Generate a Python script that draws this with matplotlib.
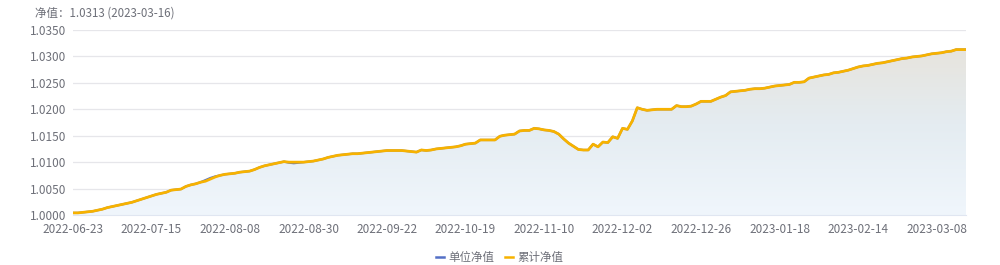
import matplotlib
matplotlib.use("Agg")
import matplotlib.pyplot as plt
import numpy as np
from matplotlib.colors import LinearSegmentedColormap
from matplotlib.lines import Line2D

plt.rcParams['font.family'] = ['Noto Sans CJK SC', 'DejaVu Sans']

title_text = "净值：1.0313 (2023-03-16)"
tick_labels = ["2022-06-23", "2022-07-15", "2022-08-08", "2022-08-30", "2022-09-22",
               "2022-10-19", "2022-11-10", "2022-12-02", "2022-12-26", "2023-01-18",
               "2023-02-14", "2023-03-08"]
series_names = ["单位净值", "累计净值"]

cum_nav = [
    1.0004, 1.0004, 1.0005, 1.0006, 1.0007, 1.0009, 1.0011, 1.0014, 1.0016, 1.0018,
    1.0020, 1.0022, 1.0024, 1.0027, 1.0030, 1.0033, 1.0036, 1.0039, 1.0041, 1.0043,
    1.0047, 1.0048, 1.0049, 1.0054, 1.0057, 1.0059, 1.0062, 1.0064, 1.0068, 1.0072,
    1.0075, 1.0077, 1.0078, 1.0079, 1.0081, 1.0082, 1.0083, 1.0086, 1.0090, 1.0093,
    1.0095, 1.0097, 1.0099, 1.0101, 1.0100, 1.0100, 1.0100, 1.0100, 1.0101, 1.0102,
    1.0104, 1.0106, 1.0109, 1.0111, 1.0113, 1.0114, 1.0115, 1.0116, 1.0116, 1.0117,
    1.0118, 1.0119, 1.0120, 1.0121, 1.0122, 1.0122, 1.0122, 1.0122, 1.0121, 1.0120,
    1.0119, 1.0123, 1.0122, 1.0123, 1.0125, 1.0126, 1.0127, 1.0128, 1.0129, 1.0131,
    1.0134, 1.0135, 1.0136, 1.0142, 1.0142, 1.0142, 1.0142, 1.0149, 1.0151, 1.0152,
    1.0153, 1.0159, 1.0160, 1.0160, 1.0164, 1.0163, 1.0161, 1.0160, 1.0158, 1.0153,
    1.0144, 1.0136, 1.0130, 1.0124, 1.0123, 1.0123, 1.0134, 1.0129, 1.0138, 1.0137,
    1.0148, 1.0145, 1.0164, 1.0162, 1.0178, 1.0203, 1.0200, 1.0198, 1.0199, 1.0200,
    1.0200, 1.0200, 1.0200, 1.0207, 1.0205, 1.0205, 1.0206, 1.0210, 1.0215, 1.0215,
    1.0215, 1.0219, 1.0223, 1.0226, 1.0233, 1.0234, 1.0235, 1.0236, 1.0238, 1.0239,
    1.0239, 1.0240, 1.0242, 1.0244, 1.0245, 1.0246, 1.0247, 1.0251, 1.0251, 1.0252,
    1.0259, 1.0261, 1.0263, 1.0265, 1.0266, 1.0269, 1.0270, 1.0272, 1.0274, 1.0277,
    1.0280, 1.0282, 1.0283, 1.0285, 1.0287, 1.0288, 1.0290, 1.0292, 1.0294, 1.0296,
    1.0297, 1.0299, 1.0300, 1.0301, 1.0303, 1.0305, 1.0306, 1.0307, 1.0309, 1.0310,
    1.0313, 1.0313, 1.0313,
]

unit_nav = list(cum_nav)
unit_nav[27:30] = [1.0066, 1.0070, 1.0073]
unit_nav[44:48] = [1.0099, 1.0098, 1.0099, 1.0100]

y_ticks = [1.0000, 1.0050, 1.0100, 1.0150, 1.0200, 1.0250, 1.0300, 1.0350]

blue = '#5470c6'
orange = '#f7b200'
grey_text = '#6e7079'

fig = plt.figure(figsize=(10, 2.65), dpi=100)
ax = fig.add_axes([0.073, 0.1887, 0.893, 0.698])

x = np.arange(len(cum_nav))
y = np.array(cum_nav)

ymin, ymax = 1.0, 1.035
cmap = LinearSegmentedColormap.from_list('g', [(0.0, '#f0f6fc'), (0.55, '#e4ecf1'), (1.0, '#e7e4dd')])
grad = np.linspace(0, 1, 256).reshape(-1, 1)
top = y.max()
im = ax.imshow(grad, extent=[x[0], x[-1], ymin, top], origin='lower', aspect='auto',
               cmap=cmap, zorder=1)
poly = ax.fill_between(x, y, ymin, color='none', lw=0)
clip_path = poly.get_paths()[0]
im.set_clip_path(clip_path, transform=ax.transData)

ax.plot(x, unit_nav, color=blue, lw=1.6, zorder=3, solid_joinstyle='round')
ax.plot(x, y, color=orange, lw=2.0, zorder=4, solid_joinstyle='round')

ax.set_xlim(x[0], x[-1])
ax.set_ylim(ymin, ymax)
ax.set_yticks(y_ticks)
ax.set_yticklabels([f"{v:.4f}" for v in y_ticks])
ax.set_xticks(np.arange(0, len(cum_nav), 16)[:len(tick_labels)])
ax.set_xticklabels(tick_labels)
ax.grid(axis='y', color='#e6e6ea', lw=0.9, zorder=0)
ax.set_axisbelow(True)
for s in ['top', 'right', 'left']:
    ax.spines[s].set_visible(False)
ax.spines['bottom'].set_color('#e0e6f1')
ax.tick_params(axis='both', length=0, colors=grey_text, labelsize=8.5)
ax.tick_params(axis='x', pad=6)
ax.tick_params(axis='y', pad=5)

fig.text(0.035, 0.975, title_text, color=grey_text, fontsize=8.3, va='top', ha='left')

handles = [Line2D([], [], color=blue, lw=1.8), Line2D([], [], color=orange, lw=1.8)]
fig.legend(handles, series_names, loc='lower center', bbox_to_anchor=(0.5, -0.035), ncol=2,
           frameon=False, fontsize=8.3, handlelength=0.7, handletextpad=0.4, columnspacing=0.9,
           labelcolor=grey_text)

fig.savefig('out.png', dpi=100, facecolor='white')
